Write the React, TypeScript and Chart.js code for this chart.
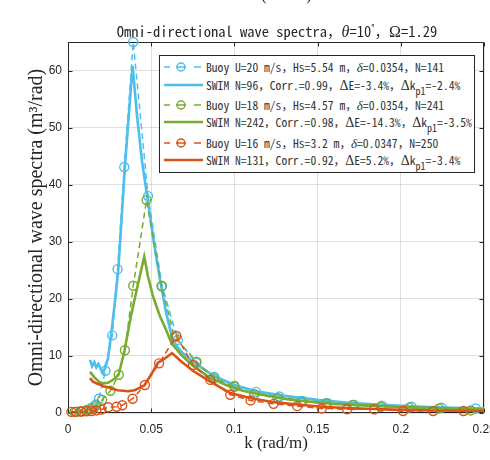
import React, { useEffect, useRef } from "react";
import { Chart, registerables } from "chart.js";

Chart.register(...registerables);

const BLUE = "#4DBEEE";
const GREEN = "#77AC30";
const RED = "#D95319";
const AXIS = "#262626";

// ---- U = 20 m/s ----
const buoy20K = [0.004, 0.008, 0.0115, 0.0145, 0.0168, 0.0186, 0.0225, 0.0266, 0.0298, 0.0338, 0.0392, 0.0481, 0.0565, 0.066, 0.077, 0.088, 0.1, 0.113, 0.127, 0.141, 0.156, 0.172, 0.1887, 0.2064, 0.2244, 0.245];
const buoy20S = [0.2, 0.3, 0.6, 1.0, 1.5, 2.5, 7.4, 13.6, 25.2, 43.1, 65, 38, 22.3, 12.8, 8.8, 6.3, 4.8, 3.7, 2.9, 2.1, 1.7, 1.4, 1.3, 1.1, 0.93, 0.8];
const swim20K = [0.0132, 0.0145, 0.0158, 0.017, 0.0182, 0.0198, 0.0212, 0.0226, 0.024, 0.026, 0.028, 0.0302, 0.032, 0.0342, 0.0365, 0.0388, 0.0415, 0.0445, 0.0482, 0.0515, 0.0552, 0.059, 0.0632, 0.068, 0.075, 0.087, 0.1, 0.113, 0.13, 0.15, 0.17, 0.2, 0.22, 0.25];
const swim20S = [9.3, 8.2, 8.9, 8.0, 8.6, 7.7, 7.0, 8.4, 9.5, 14, 19, 25, 33, 43.2, 52, 60.8, 52, 44, 36.8, 30, 23.5, 17.5, 12.5, 10.8, 9.0, 6.6, 4.9, 3.8, 3.0, 2.3, 1.75, 1.25, 1.0, 0.8];

// ---- U = 18 m/s ----
const buoy18K = [0.004, 0.0075, 0.011, 0.014, 0.017, 0.0205, 0.0255, 0.0305, 0.0342, 0.0392, 0.0472, 0.0562, 0.064, 0.0772, 0.0875, 0.1, 0.112, 0.126, 0.14, 0.155, 0.171, 0.188, 0.205, 0.223, 0.242];
const buoy18S = [0.2, 0.3, 0.4, 0.7, 1.3, 2.3, 3.9, 6.7, 11, 22.3, 37.3, 22.2, 13.3, 9.0, 6.1, 4.6, 3.3, 2.6, 2.0, 1.7, 1.4, 1.1, 0.95, 0.8, 0.45];
const swim18K = [0.0132, 0.016, 0.019, 0.0212, 0.024, 0.028, 0.0305, 0.034, 0.0378, 0.042, 0.0458, 0.048, 0.051, 0.0552, 0.059, 0.0622, 0.068, 0.075, 0.085, 0.095, 0.105, 0.115, 0.13, 0.145, 0.16, 0.18, 0.2, 0.22, 0.25];
const swim18S = [7.2, 6.2, 5.4, 5.2, 5.3, 6.0, 6.8, 11, 17, 22.5, 27.4, 24, 20.5, 17, 14.5, 12.2, 10.2, 8.3, 6.2, 4.9, 3.9, 3.3, 2.5, 2.0, 1.6, 1.3, 1.05, 0.85, 0.65];

// ---- U = 16 m/s ----
const buoy16K = [0.002, 0.005, 0.008, 0.011, 0.014, 0.017, 0.02, 0.0242, 0.0292, 0.0326, 0.0388, 0.0462, 0.0547, 0.0651, 0.0751, 0.0855, 0.0975, 0.1097, 0.1235, 0.1377, 0.1525, 0.1677, 0.184, 0.2013, 0.2194, 0.2376];
const buoy16S = [0.2, 0.2, 0.25, 0.3, 0.35, 0.45, 0.6, 1.0, 1.1, 1.35, 2.5, 4.9, 8.7, 13.5, 8.4, 5.8, 3.2, 2.2, 1.6, 1.2, 0.8, 0.65, 0.65, 0.35, 0.35, 0.35];
const swim16K = [0.0132, 0.015, 0.017, 0.019, 0.021, 0.0242, 0.027, 0.03, 0.033, 0.036, 0.04, 0.043, 0.046, 0.0505, 0.054, 0.058, 0.0625, 0.067, 0.075, 0.0855, 0.0975, 0.11, 0.1235, 0.1377, 0.1525, 0.1677, 0.184, 0.2013, 0.2194, 0.2376, 0.25];
const swim16S = [6.1, 5.5, 5.2, 5.0, 4.7, 4.5, 4.2, 4.0, 3.9, 3.8, 4.0, 4.4, 4.9, 7.0, 8.8, 9.5, 10.5, 9.3, 7.4, 5.5, 3.5, 2.6, 1.9, 1.5, 1.1, 0.85, 0.7, 0.55, 0.45, 0.4, 0.35];

const xTicks = [0, 0.05, 0.1, 0.15, 0.2, 0.25];
const yTicks = [0, 10, 20, 30, 40, 50, 60];

const TITLE = "Omni-directional wave spectra，";
const Y_LABEL = "Omni-directional wave spectra (m³/rad)";
const X_LABEL = "k (rad/m)";

const legendColors = [BLUE, GREEN, RED];
const legendU = ["20", "18", "16"];
const legendHs = ["5.54", "4.57", "3.2"];
const legendDelta = ["0.0354", "0.0354", "0.0347"];
const legendNb = ["141", "241", "250"];
const legendNs = ["96", "242", "131"];
const legendCorr = ["0.99", "0.98", "0.92"];
const legendDE = ["-3.4%", "-14.3%", "5.2%"];
const legendDK = ["-2.4%", "-3.5%", "-3.4%"];

const toXY = (k: number[], s: number[]) => k.map((x, i) => ({ x, y: s[i] }));

const boxPlugin = {
  id: "matlabBox",
  beforeDatasetsDraw(chart: any) {
    const { ctx, chartArea: a, scales } = chart;
    const x = scales.x;
    const y = scales.y;
    ctx.save();
    ctx.strokeStyle = AXIS;
    ctx.lineWidth = 1;
    const L = Math.round(a.left) + 0.5;
    const R = Math.round(a.right) - 0.5;
    const T = Math.round(a.top) + 0.5;
    const B = Math.round(a.bottom) - 0.5;
    ctx.beginPath();
    ctx.rect(L, T, R - L, B - T);
    const tl = 4;
    xTicks.forEach((v) => {
      const px = Math.round(x.getPixelForValue(v)) + 0.5;
      ctx.moveTo(px, B);
      ctx.lineTo(px, B - tl);
      ctx.moveTo(px, T);
      ctx.lineTo(px, T + tl);
    });
    yTicks.forEach((v) => {
      const py = Math.round(y.getPixelForValue(v)) + 0.5;
      ctx.moveTo(L, py);
      ctx.lineTo(L + tl, py);
      ctx.moveTo(R, py);
      ctx.lineTo(R - tl, py);
    });
    ctx.stroke();
    ctx.restore();
  },
};

const buoyDs = (k: number[], s: number[], color: string, order: number) => ({
  data: toXY(k, s),
  borderColor: color,
  borderWidth: 1.5,
  borderDash: [6, 4],
  pointRadius: 4.5,
  pointBorderWidth: 1.4,
  pointBorderColor: color,
  pointBackgroundColor: "rgba(0,0,0,0)",
  tension: 0,
  order,
  clip: false,
});

const swimDs = (k: number[], s: number[], color: string, order: number) => ({
  data: toXY(k, s),
  borderColor: color,
  borderWidth: 2.6,
  pointRadius: 0,
  tension: 0,
  order,
  clip: false,
});

const MONO = "'Noto Sans Mono CJK SC', 'Liberation Mono', monospace";
const SERIF = "'Liberation Serif', 'Times New Roman', serif";

function BuoySample({ color }: { color: string }) {
  return (
    <svg width={44} height={12} style={{ position: "absolute", left: 0, top: -6 }}>
      <line x1={4} y1={6} x2={10} y2={6} stroke={color} strokeWidth={1.5} />
      <line x1={16} y1={6} x2={26} y2={6} stroke={color} strokeWidth={1.5} />
      <circle cx={21} cy={6} r={4} fill="none" stroke={color} strokeWidth={1.4} />
      <line x1={34} y1={6} x2={41} y2={6} stroke={color} strokeWidth={1.5} />
    </svg>
  );
}

function SwimSample({ color }: { color: string }) {
  return (
    <svg width={44} height={12} style={{ position: "absolute", left: 0, top: -6 }}>
      <line x1={4} y1={6} x2={43} y2={6} stroke={color} strokeWidth={2.6} />
    </svg>
  );
}

const rowTops = [11, 28.5, 48.5, 66, 86.5, 104];

function Legend() {
  const textStyle: React.CSSProperties = {
    position: "absolute",
    left: 46,
    top: -8,
    fontFamily: MONO,
    fontSize: 11.6,
    lineHeight: "16px",
    color: "#333",
    whiteSpace: "nowrap",
  };
  const greek: React.CSSProperties = { fontFamily: SERIF, fontSize: 13 };
  const rows: React.ReactNode[] = [];
  legendColors.forEach((c, i) => {
    rows.push(
      <div key={"b" + i} style={{ position: "absolute", left: 0, top: rowTops[i * 2] }}>
        <BuoySample color={c} />
        <span style={textStyle}>
          Buoy U={legendU[i]} m/s，Hs={legendHs[i]} m，<i style={greek}>δ</i>={legendDelta[i]}，N={legendNb[i]}
        </span>
      </div>
    );
    rows.push(
      <div key={"s" + i} style={{ position: "absolute", left: 0, top: rowTops[i * 2 + 1] }}>
        <SwimSample color={c} />
        <span style={textStyle}>
          SWIM N={legendNs[i]}，Corr.={legendCorr[i]}，<span style={{ ...greek, fontSize: 14 }}>Δ</span>E={legendDE[i]}，
          <span style={{ ...greek, fontSize: 14 }}>Δ</span>k
          <span style={{ fontSize: 10, position: "relative", top: 5 }}>p1</span>={legendDK[i]}
        </span>
      </div>
    );
  });
  return (
    <div
      style={{
        position: "absolute",
        left: 159,
        top: 55,
        width: 316,
        height: 118,
        boxSizing: "border-box",
        border: "1px solid " + AXIS,
        background: "#fff",
      }}
    >
      {rows}
    </div>
  );
}

export default function App() {
  const ref = useRef<HTMLCanvasElement | null>(null);
  useEffect(() => {
    if (!ref.current) return;
    const chart = new Chart(ref.current, {
      type: "line",
      data: {
        datasets: [
          buoyDs(buoy20K, buoy20S, BLUE, 6),
          swimDs(swim20K, swim20S, BLUE, 5),
          buoyDs(buoy18K, buoy18S, GREEN, 4),
          swimDs(swim18K, swim18S, GREEN, 3),
          buoyDs(buoy16K, buoy16S, RED, 2),
          swimDs(swim16K, swim16S, RED, 1),
        ] as any,
      },
      options: {
        animation: false,
        responsive: false,
        devicePixelRatio: 1,
        layout: { padding: { left: 0, top: 42, right: 4.5, bottom: 0 } },
        plugins: {
          legend: { display: false },
          tooltip: { enabled: false },
          title: { display: false },
        },
        scales: {
          x: {
            type: "linear",
            min: 0,
            max: 0.25,
            afterBuildTicks: (s: any) => {
              s.ticks = xTicks.map((v) => ({ value: v }));
            },
            afterFit: (s: any) => {
              s.height = 47;
              s.paddingLeft = 0;
              s.paddingRight = 0;
            },
            ticks: {
              autoSkip: false,
              maxRotation: 0,
              padding: 9,
              color: AXIS,
              font: { family: "'Liberation Sans', Arial, sans-serif", size: 12 },
              callback: (v: any) => String(+Number(v).toFixed(2)),
            },
            grid: { color: "rgba(38,38,38,0.15)", drawTicks: false, lineWidth: 1 },
            border: { display: false },
            title: {
              display: true,
              text: X_LABEL,
              color: AXIS,
              font: { family: SERIF, size: 17 },
              padding: { top: 0, bottom: 6 },
            },
          },
          y: {
            type: "linear",
            min: 0,
            max: 65,
            afterBuildTicks: (s: any) => {
              s.ticks = yTicks.map((v) => ({ value: v }));
            },
            afterFit: (s: any) => {
              s.width = 68;
              s.paddingTop = 0;
              s.paddingBottom = 0;
            },
            ticks: {
              autoSkip: false,
              padding: 6,
              color: AXIS,
              font: { family: "'Liberation Sans', Arial, sans-serif", size: 12 },
            },
            grid: { color: "rgba(38,38,38,0.15)", drawTicks: false, lineWidth: 1 },
            border: { display: false },
            title: {
              display: true,
              text: Y_LABEL,
              color: AXIS,
              font: { family: SERIF, size: 20 },
              padding: { top: 25, bottom: 0 },
            },
          },
        },
      },
      plugins: [boxPlugin],
    });
    return () => chart.destroy();
  }, []);

  return (
    <div style={{ position: "absolute", left: 0, top: 0, width: 490, height: 460, overflow: "hidden", background: "#fff" }}>
      <canvas ref={ref} width={490} height={460} style={{ position: "absolute", left: 0, top: 0 }} />
      <div
        style={{
          position: "absolute",
          left: 80,
          width: 400,
          top: -15,
          textAlign: "center",
          fontFamily: SERIF,
          fontSize: 17,
          lineHeight: "20px",
          color: AXIS,
        }}
      >
        {X_LABEL}
      </div>
      <div
        style={{
          position: "absolute",
          left: 77,
          width: 400,
          top: 19,
          textAlign: "center",
          fontFamily: MONO,
          fontSize: 14.5,
          lineHeight: "18px",
          color: AXIS,
          whiteSpace: "nowrap",
        }}
      >
        {TITLE}
        <i style={{ fontFamily: SERIF, fontSize: 16 }}>θ</i>=10<sup style={{ fontSize: 9 }}>°</sup>，
        <span style={{ fontFamily: SERIF, fontSize: 16 }}>Ω</span>=1.29
      </div>
      <Legend />
    </div>
  );
}
